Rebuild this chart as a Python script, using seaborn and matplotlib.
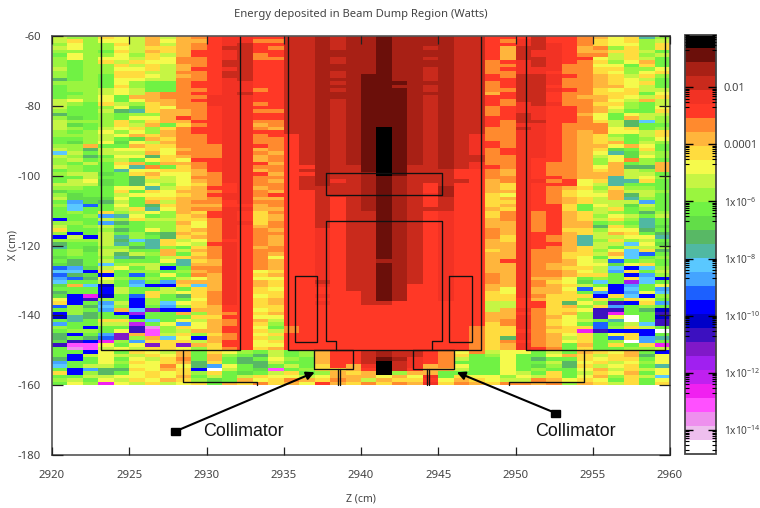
import numpy as np
import pandas as pd
import seaborn as sns
import matplotlib
matplotlib.use("Agg")
import matplotlib.pyplot as plt
from matplotlib.colors import ListedColormap
from matplotlib.patches import Rectangle

sns.set_theme(style="white")
plt.rcParams['font.family'] = ['Noto Sans', 'DejaVu Sans']

Z_TICKS = [2920, 2925, 2930, 2935, 2940, 2945, 2950, 2955, 2960]
X_TICKS = [-60, -80, -100, -120, -140, -160, -180]
CB_TICKS = [-2, -4, -6, -8, -10, -12, -14]
CB_LABELS = ["0.01", "0.0001"] + [f"1x10$^{{\\mathregular{{{e}}}}}$" for e in (-6, -8, -10, -12, -14)]
PALETTE = ["#000000", "#6b0f0a", "#a82015", "#c92a1c", "#f23224", "#ff3826",
           "#ff8a2e", "#ffb53c", "#ffdc3e", "#f5fa4c", "#c6f544", "#9af53f",
           "#70f244", "#62dd48", "#58b865", "#50b8a2", "#5ac8ff", "#44a4ff",
           "#1c60ff", "#0000ff", "#0000c8", "#3c10c0", "#8018c8", "#a020f0",
           "#c020f0", "#f020f0", "#ff50ff", "#ee90ee", "#eebfee", "#ffffff"]
LEVEL_CODES = "0123456789abcdefghijklmnopqrst"

# energy level code for each 1 cm x 1 cm cell, X = -60 downward, Z = 2920 rightward
CELLS = """
abb89a7a76 5445533232 2122223355 53556798fb
a8b99a7977 5446633232 2122223356 4355689 8ba
b9bb8a7a76 5435533232 2122223355 43456899b8
a9bb9a8876 5335633232 2122323357 334576b8b8
bbbc8a7875 5435533222 2122223357 34457788ac
c9bb9b8a75 5436533222 2122223357 344566a8ba
b9b99a8966 5436633232 2122323357 334559a8ac
bcb8a89966 5335533232 2122223365 434568b97c
bcbb8a8a76 5335533222 2122223366 4346699c8c
acbb998a75 5435533222 2122323365 4446688bb9
bcbb88aa66 5335533232 2122323366 4456689b98
bcbc889a76 5335533232 1122323356 3345678a8b
ecbc99aa66 5435533222 1122323355 33466789ac
bbbc9bcc65 5445533232 1112223365 334667898c
cbbc8bcc65 5445533222 1122323365 33566779ac
cbba9acc66 5446533232 1112323366 33456898aa
ccba9a7665 5435533222 1112223375 33566888c9
cbb9c77666 4445533222 1112323355 33567789a8
a9b9c97765 4445533232 1112323356 3356679a7a
abc8ab8766 4446533232 1112323356 4346688bca
accb9d8966 5445533232 1112323365 4455679bc9
bccaef8776 5446633232 1112323365 445567acc8
eccbcbb776 5445533232 1112323365 345579c9aa
bdcbc99756 5445533232 1112323355 345569c7ab
abbb8b8775 5446633232 1112323356 335568aegb
adcb8a7c86 5447633232 1112323356 445666aecc
abca98b865 5446733232 1012323366 34566698cb
bcb9b9b765 5445533232 1012323366 44567699a8
bbba978766 5446553232 1012323466 445678bca8
ccbacd7866 5446653232 1012323466 445678acb9
cdb9d9a766 5446653232 1012323456 4456787cab
bb7cc78866 6445653232 1012323456 445677979c
abea998976 6447653232 1012323465 445678dc8c
gacaaa7966 6446753232 1012323465 445679fdab
abec99e876 6447653232 1012323366 44567a9d9b
bacbac9895 5447653232 1012323366 45567b96bc
bcac87c776 5445753232 1012323466 45667b7cb7
abcc9f6c86 5446655233 1013323456 4566797ee7
cbccf99887 5447653233 1013335567 4566787ab7
baadc87997 6445755233 2013335567 4566777aac
ccacce8a96 6446653233 2123335566 455677fa9b
ca9dceaa97 6446753243 2123333576 446598ff8c
aaadce9b98 6546653233 2123535578 45559afccc
bbcc99fa87 5547653333 2123525578 45678b8bbc
dccc8c8977 6546755333 2123525577 45689a7aab
bdcca99987 5446555333 2123425589 4568997eac
addd9c8877 6447755353 2123535587 45678a7fbc
chdeac7a76 6546655353 2123535588 45678aaahc
bgic9ce877 7557655353 2123535587 4558c9adac
cgcca8f976 6447755353 2123335578 4558ca8cbc
cbc8ba9b78 5458655353 3123545586 46578abceb
ccbhf9cb87 5458755353 3123545586 46578b9aca
jccab8aa88 6458755353 3123545576 46578a8bfc
bbchecbb79 6448655353 3123545577 46577cbcfc
acbaccbb89 6457655353 3123545577 46577e8bfd
8ccbec9b87 6456755453 3123545567 46588b99ec
bjcacbde78 6456655453 3123545567 45578a78ce
jajafbce87 6456755453 3123545568 4567faa99f
bbbaegf8a9 6556755453 3123545578 4567fb8bac
eccafcf89a 5456755453 3123545577 4557faag9d
fcdbbefbc8 6457655453 3123545577 45678acaab
cbdaacc7a7 6456655453 3123545587 46678b9g8e
cbcaeab7c8 6456755453 3123545577 46688a7gic
dccbfeca87 6456955453 3123545577 46689c9gcb
cecaccc9f8 7456755453 3223545575 46679aicbc
decgbaacf7 7456755453 3123545577 467799d98c
ihda9cajc6 6456755453 3123545577 46788agjgb
ggj8cbbcb7 6459855453 3123545577 46679ah8ca
iedjcic9c6 7458755453 3123545567 466788cjhb
hie9bcbca9 7459955453 3123545567 4779cbc8gj
gccachch77 7457855353 3123545567 4689dgcngc
d7gkcgjj8g 7457855453 3125545577 4678acjhc9
cccjaccac8 7458955553 3125545579 4779i9jgch
eccjac8a98 6458855555 3125545589 4778chjh9g
djpkci8ce8 6459855455 3125545588 46888j8gjb
9jlbcjbcc9 6458755555 3125545588 5788b8c89c
8jchajbg98 6458755455 33555555aa 558e9blj8h
ibegbjchb8 7558855555 55555555aa 5587b8hcbc
cbch7gmjj7 7559855555 55555555a7 46889llcek
jbecjncc7b 7658755555 5555555577 5687blpccl
kfeccjccc8 8559955555 5555555577 4679bl9tck
cfc88cgc9a 7657a55555 5555555576 4689acftcl
hccaaoc9h9 7658b55555 5555555586 4689cicagl
bcjcclrb89 7559c65555 5555555688 46788ib8ac
cbbc9lqba7 7558a65555 5555555688 5688pljjjt
ejchm7qa8b 8659855555 5555555688 46798c98jc
eceimb7g9j 7658a55555 555555568e 467a8ci8hf
dljpbh888a 7559855555 5555555686 56798cbthc
lqq9c9m8m7 8559955555 5555555687 467c7c8c8p
crqa9a889b 8658755555 5555555687 456c8ccbba
ccj9c89a7c 89bcacb755 32335696a9 9cac7897cj
cja9aa897c 7bceacb755 3233568cb9 cc978a87e9
ejc9c9a86c 7cec9bc755 312456acc9 cecc8988c9
hcc9b8987e 8ceeacc755 303456ccc9 ccae98a9b9
gcaac9969e h9cecac857 4034769cc9 cdbe8a98cf
cjhee8978j tacdqcb887 503577acc9 cbcc97a8a9
8jbec9898b 8cdca8cb78 70b77cccc9 ac8ca897c9
ccaa99897c aca899a977 79794c899b 9a8c97b8ag
bac9a8978b dc79867867 a78859789a a67989c8c9
c9bp9a8a98 c786879578 6867486786 676b78a8c8
""".split("\n")

VMAX, VMIN = -0.15, -14.85
STEP = (VMAX - VMIN) / len(PALETTE)

rows = [r.replace(" ", "") for r in CELLS if r.strip()]
assert len(rows) == 100 and all(len(r) == 40 for r in rows), [i for i, r in enumerate(rows) if len(r) != 40]
grid = np.full((120, 40), np.nan)
for i, r in enumerate(rows):
    for j, ch in enumerate(r):
        grid[i, j] = VMAX - (LEVEL_CODES.index(ch) + 0.5) * STEP
frame = pd.DataFrame(grid, index=np.arange(-60, -180, -1), columns=np.arange(2920, 2960))

W, H = 760, 508
fig = plt.figure(figsize=(W / 100, H / 100), dpi=100, facecolor="white")
ax = fig.add_axes([52 / W, 1 - 455 / H, (670 - 52) / W, (455 - 36) / H])
cax = fig.add_axes([685 / W, 1 - 454 / H, 30.5 / W, (454 - 34.5) / H])

sns.heatmap(frame, ax=ax, cbar_ax=cax, cmap=ListedColormap(PALETTE[::-1]), vmin=VMIN, vmax=VMAX,
            xticklabels=False, yticklabels=False)
ax.set_axisbelow(False)
cax.set_axisbelow(False)


def zc(z):
    return z - 2920


def xc(x):
    return -60 - x


GREY = "#444444"
FS = 8.2
ax.set_xticks([zc(z) for z in Z_TICKS])
ax.set_xticklabels(Z_TICKS, rotation=0, fontsize=FS, color=GREY)
ax.set_yticks([xc(x) for x in X_TICKS])
ax.set_yticklabels(X_TICKS, rotation=0, fontsize=FS, color=GREY)
ax.tick_params(axis="x", which="both", direction="in", top=True, bottom=True, length=5.5,
               width=0.9, color="#222222", pad=11)
ax.tick_params(axis="y", which="both", direction="in", left=True, right=True, length=8,
               width=0.9, color="#222222", pad=8)
for s in ax.spines.values():
    s.set_visible(True)
    s.set_color("#555555")
    s.set_linewidth(1.2)
ax.set_xlabel("Z (cm)", fontsize=7.6, color=GREY, labelpad=9)
ax.set_ylabel("X (cm)", fontsize=7.6, color=GREY, labelpad=-0.5)
ax.set_title("Energy deposited in Beam Dump Region (Watts)", fontsize=8.05, color=GREY, pad=14)

outlines = [
    [(2923.2, -60), (2923.2, -150), (2932.2, -150), (2932.2, -60)],
    [(2950.7, -60), (2950.7, -150), (2959.7, -150), (2959.7, -60)],
    [(2935.25, -60), (2935.25, -150), (2947.75, -150), (2947.75, -60)],
    [(2938.4, -150), (2938.4, -147.4), (2937.73, -147.4), (2937.73, -113),
     (2945.26, -113), (2945.26, -147.4), (2944.6, -147.4), (2944.6, -150)],
    [(2928.5, -150), (2928.5, -159), (2933.3, -159), (2933.3, -160)],
    [(2954.43, -150), (2954.43, -159), (2949.58, -159), (2949.58, -160)],
    [(2938.49, -155.4), (2938.49, -160)], [(2938.64, -155.4), (2938.64, -160)],
    [(2944.25, -155.4), (2944.25, -160)], [(2944.42, -155.4), (2944.42, -160)],
]
boxes = [
    (2937.73, 2945.26, -99.1, -105.6),
    (2935.73, 2937.17, -128.6, -147.6),
    (2945.72, 2947.18, -128.6, -147.6),
    (2936.93, 2939.51, -150, -155.4),
    (2943.38, 2946.0, -150, -155.4),
]
for line in outlines:
    ax.plot([zc(p[0]) for p in line], [xc(p[1]) for p in line], color="#111111", lw=0.95)
for z0, z1, x0, x1 in boxes:
    ax.plot([zc(z0), zc(z1), zc(z1), zc(z0), zc(z0)], [xc(x0), xc(x0), xc(x1), xc(x1), xc(x0)],
            color="#111111", lw=0.95)

arrows = [((2928.0, -173.2), (2937.0, -156.3)), ((2952.6, -168.0), (2946.2, -156.3))]
for (z0, x0), (z1, x1) in arrows:
    ax.annotate("", xy=(zc(z1), xc(x1)), xytext=(zc(z0), xc(x0)),
                arrowprops=dict(arrowstyle="-|>", color="black", lw=1.5, mutation_scale=12,
                                shrinkA=0, shrinkB=0))
    ax.add_patch(Rectangle((zc(z0) - 0.3, xc(x0) - 1.0), 0.6, 2.0, color="black", zorder=5))
for z, x in [(2929.75, -173.4), (2951.3, -173.4)]:
    ax.text(zc(z), xc(x), "Collimator", family="Liberation Sans", fontsize=12.9, color="#111111",
            ha="left", va="center")

cbar = ax.collections[0].colorbar
cbar.set_ticks(CB_TICKS)
cbar.set_ticklabels(CB_LABELS, fontsize=7.3, color=GREY)
for lab in cax.get_yticklabels()[:2]:
    lab.set_fontsize(8.0)
minor = [np.log10(k) + e - 1 for e in [0] + CB_TICKS for k in range(2, 10)]
minor = [m for m in minor if VMIN <= m <= VMAX]
cax.set_yticks(minor, minor=True)
cax.tick_params(axis="y", which="major", direction="in", left=True, right=True, length=6,
                width=1.0, color="black", pad=6)
cax.tick_params(axis="y", which="minor", direction="in", left=True, right=True, length=3,
                width=0.8, color="black")
cbar.outline.set_visible(True)
cbar.outline.set_edgecolor("#444444")
cbar.outline.set_linewidth(1.3)

fig.savefig("out.png", dpi=100)
